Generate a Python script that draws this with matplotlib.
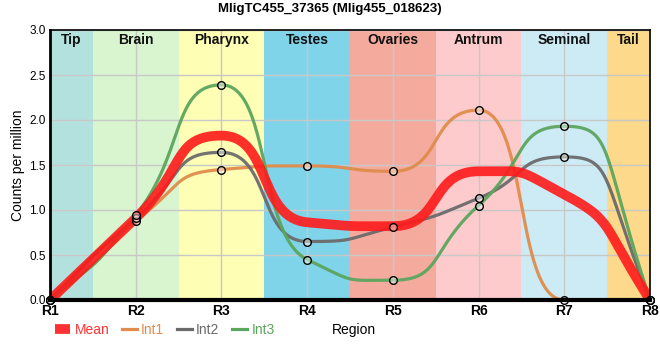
import numpy as np
import matplotlib
matplotlib.use("Agg")
import matplotlib.pyplot as plt
from matplotlib.lines import Line2D

plt.rcParams['font.family'] = ['Liberation Sans', 'DejaVu Sans']

# dati
regions = ["R1", "R2", "R3", "R4", "R5", "R6", "R7", "R8"]
int1 = [0.0, 0.88, 1.45, 1.49, 1.43, 2.11, 0.0, 0.0]
int2 = [0.0, 0.91, 1.64, 0.65, 0.81, 1.13, 1.59, 0.0]
int3 = [0.0, 0.94, 2.39, 0.45, 0.22, 1.05, 1.93, 0.0]
mean = list(np.mean([int1, int2, int3], axis=0))

tissues = ["Tip", "Brain", "Pharynx", "Testes", "Ovaries", "Antrum", "Seminal", "Tail"]
tissue_colors = ["#b3e2de", "#d8f5d0", "#fefeb5", "#7fd4ea", "#f4ab9e",
                 "#fdcbcc", "#cdebf5", "#fdd98b"]


def smooth_curve(x, y, c=0.58, n=60):
    """Tangenti monotone + bezier con punti di controllo a distanza c*dx."""
    x = np.asarray(x, float)
    y = np.asarray(y, float)
    h = np.diff(x)
    s = np.diff(y) / h
    t = np.zeros(len(x))
    for i in range(1, len(x) - 1):
        s0, s1 = s[i - 1], s[i]
        p = (s0 * h[i] + s1 * h[i - 1]) / (h[i - 1] + h[i])
        t[i] = (np.sign(s0) + np.sign(s1)) * min(abs(s0), abs(s1), 0.5 * abs(p))
    t[0] = (3 * s[0] - t[1]) / 2
    t[-1] = (3 * s[-1] - t[-2]) / 2
    xs, ys = [], []
    u = np.linspace(0, 1, n)
    for i in range(len(x) - 1):
        dx = h[i]
        px = [x[i], x[i] + c * dx, x[i + 1] - c * dx, x[i + 1]]
        py = [y[i], y[i] + c * dx * t[i], y[i + 1] - c * dx * t[i + 1], y[i + 1]]
        b = [(1 - u)**3, 3 * (1 - u)**2 * u, 3 * (1 - u) * u**2, u**3]
        xs.append(sum(bk * pk for bk, pk in zip(b, px)))
        ys.append(sum(bk * pk for bk, pk in zip(b, py)))
    return np.concatenate(xs), np.concatenate(ys)


fig = plt.figure(figsize=(6.6, 3.6), dpi=100)
ax = fig.add_axes([50 / 660, 60 / 360, 600 / 660, 270 / 360])

xpos = np.arange(len(regions))

# bande colorate per tessuto
for i, (name, col) in enumerate(zip(tissues, tissue_colors)):
    lo = max(i - 0.5, 0)
    hi = min(i + 0.5, len(regions) - 1)
    ax.axvspan(lo, hi, color=col, lw=0, zorder=0)
    ax.text((lo + hi) / 2, 2.885, name, ha="center", va="center",
            fontsize=10, fontweight="bold", color="#111111", zorder=5)

ax.set_xlim(0, len(regions) - 1)
ax.set_ylim(0, 3.0)
ax.set_xticks(xpos)
ax.set_xticklabels(regions, fontsize=10, fontweight="bold")
yt = np.arange(0, 3.01, 0.5)
ax.set_yticks(yt)
ax.set_yticklabels([f"{v:.1f}" for v in yt], fontsize=8.5)
ax.grid(True, color="#c8c8c8", lw=1, zorder=1)
ax.set_axisbelow(False)
ax.tick_params(length=0, pad=3)

series = [
    ("Int1", int1, "#e08c4c"),
    ("Int2", int2, "#6b6b6b"),
    ("Int3", int3, "#5ca55e"),
]
for name, vals, col in series:
    sx, sy = smooth_curve(xpos, vals)
    ax.plot(sx, sy, color=col, lw=2.3, alpha=0.95, zorder=3, solid_capstyle="round")

mx, my = smooth_curve(xpos, mean)
ax.plot(mx, my, color="#ff1a1a", lw=7, alpha=0.9, zorder=3, solid_capstyle="round")

for name, vals, col in series:
    ax.plot(xpos, vals, ls="none", marker="o", ms=5.5, mec="black", mew=1,
            mfc=(1, 1, 1, 0.45), zorder=6, clip_on=False)

for side in ["top", "right"]:
    ax.spines[side].set_linewidth(1.2)
ax.spines["left"].set_linewidth(2)
ax.spines["bottom"].set_linewidth(3)
for sp in ax.spines.values():
    sp.set_zorder(7)

ax.set_ylabel("Counts per million", fontsize=10, labelpad=3)
fig.text(332 / 660, 1 - 330 / 360, "Region", ha="left", va="center", fontsize=10)
fig.suptitle("MligTC455_37365 (Mlig455_018623)", fontsize=9.5, fontweight="bold",
             y=1 - 9 / 360, va="center")

handles = [
    Line2D([], [], color="#ff1a1a", lw=7, alpha=0.9, solid_capstyle="butt"),
    Line2D([], [], color="#e08c4c", lw=2.3),
    Line2D([], [], color="#6b6b6b", lw=2.3),
    Line2D([], [], color="#5ca55e", lw=2.3),
]
leg = fig.legend(handles, ["Mean", "Int1", "Int2", "Int3"], loc="center left",
                 bbox_to_anchor=(55 / 660, 1 - 330 / 360), ncol=4, frameon=False,
                 fontsize=10, handlelength=1.1, handletextpad=0.3, columnspacing=0.9,
                 borderaxespad=0, borderpad=0)
for txt, col in zip(leg.get_texts(), ["#ff3333", "#e08c4c", "#6b6b6b", "#5ca55e"]):
    txt.set_color(col)

fig.savefig("out.png", dpi=100)
